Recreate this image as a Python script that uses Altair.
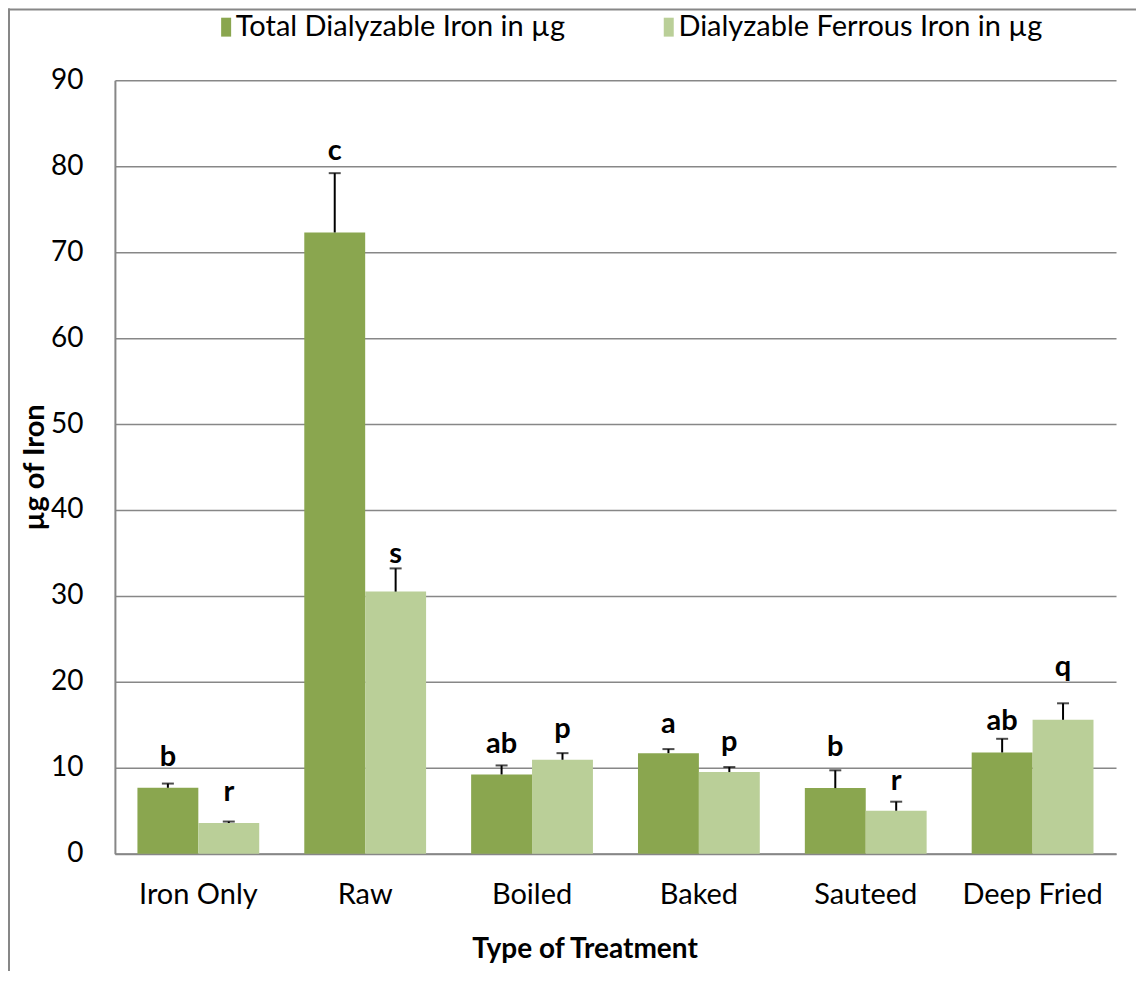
import altair as alt
import pandas as pd

categories = ["Iron Only", "Raw", "Boiled", "Baked", "Sauteed", "Deep Fried"]
series_names = ["Total Dialyzable Iron in µg", "Dialyzable Ferrous Iron in µg"]

total_iron = [7.67, 72.3, 9.22, 11.7, 7.63, 11.78]
total_err = [0.49, 6.9, 1.05, 0.47, 2.07, 1.59]
total_letters = ["b", "c", "ab", "a", "b", "ab"]
total_label_at = [10.15, 80.7, 11.74, 14.1, 11.4, 14.34]

ferrous_iron = [3.57, 30.5, 10.93, 9.5, 5.0, 15.58]
ferrous_err = [0.17, 2.7, 0.77, 0.58, 1.05, 1.92]
ferrous_letters = ["r", "s", "p", "p", "r", "q"]
ferrous_label_at = [6.08, 33.8, 13.49, 11.9, 7.44, 20.7]

y_ticks = [0, 10, 20, 30, 40, 50, 60, 70, 80, 90]
colors = ["#8aa64f", "#bacf98"]

rows = []
for i, c in enumerate(categories):
    rows.append(dict(cat=c, series=series_names[0], value=total_iron[i],
                     top=total_iron[i] + total_err[i], letter=total_letters[i],
                     label_y=total_label_at[i]))
    rows.append(dict(cat=c, series=series_names[1], value=ferrous_iron[i],
                     top=ferrous_iron[i] + ferrous_err[i], letter=ferrous_letters[i],
                     label_y=ferrous_label_at[i]))
df = pd.DataFrame(rows)

FONT = "Lato"
GRAY = "#878787"

x_enc = alt.X(
    "cat:N", sort=categories,
    scale=alt.Scale(paddingInner=0.27, paddingOuter=0.135),
    axis=alt.Axis(title="Type of Treatment", labelAngle=0, ticks=False,
                  domainColor=GRAY, domainWidth=2,
                  labelFont=FONT, labelFontSize=29, labelColor="black",
                  labelPadding=41, labelBaseline="middle",
                  titleFont=FONT, titleFontSize=28, titleFontWeight="bold",
                  titleColor="black", titleX=470, titleY=96,
                  titleBaseline="middle", titleAlign="center"),
)
xo_enc = alt.XOffset("series:N", sort=series_names,
                     scale=alt.Scale(paddingInner=0, paddingOuter=0))
y_scale = alt.Scale(domain=[0, 90], nice=False)

base = alt.Chart(df)

bars = base.mark_bar().encode(
    x=x_enc,
    xOffset=xo_enc,
    y=alt.Y("value:Q", scale=y_scale,
            axis=alt.Axis(title="µg of Iron", values=y_ticks, ticks=False,
                          domainColor=GRAY, domainWidth=2,
                          gridColor=GRAY, gridWidth=1.5,
                          labelFont=FONT, labelFontSize=28, labelColor="black",
                          labelPadding=32,
                          titleFont=FONT, titleFontSize=29, titleFontWeight="bold",
                          titleColor="black", titleX=-80, titleY=387,
                          titleAngle=-90, titleBaseline="middle", titleAlign="center")),
    color=alt.Color("series:N", sort=series_names,
                    scale=alt.Scale(domain=series_names, range=colors),
                    legend=alt.Legend(title=None, orient="none", legendX=90, legendY=-68,
                                      direction="horizontal",
                                      symbolType="M0.155,-0.8H1V0.8H0.155Z",
                                      symbolSize=560, symbolStrokeWidth=0,
                                      labelFont=FONT, labelFontSize=29,
                                      labelColor="black", labelOffset=2,
                                      columnPadding=82, labelLimit=500)),
)

rules = base.mark_rule(color="black", strokeWidth=2).encode(
    x=alt.X("cat:N", sort=categories), xOffset=xo_enc,
    y=alt.Y("value:Q", scale=y_scale), y2="top:Q",
)

caps = base.mark_tick(color="black", size=12, thickness=2, orient="horizontal").encode(
    x=alt.X("cat:N", sort=categories), xOffset=xo_enc,
    y=alt.Y("top:Q", scale=y_scale),
)

letters = base.mark_text(font=FONT, fontSize=29, fontWeight="bold",
                         baseline="alphabetic", color="black").encode(
    x=alt.X("cat:N", sort=categories), xOffset=xo_enc,
    y=alt.Y("label_y:Q", scale=y_scale),
    text="letter:N",
)

frame_df = pd.DataFrame({"k": [0]})
frame_left = alt.Chart(frame_df).mark_rule(color=GRAY, strokeWidth=2).encode(
    x=alt.value(-106), y=alt.value(-72), y2=alt.value(1000))
frame_top = alt.Chart(frame_df).mark_rule(color=GRAY, strokeWidth=2).encode(
    x=alt.value(-107), x2=alt.value(1100), y=alt.value(-71))

chart = alt.layer(bars, rules, caps, letters, frame_left, frame_top).properties(
    width=1002, height=774,
    autosize=alt.AutoSizeParams(type="none"),
    padding={"left": 107, "top": 72, "right": 20, "bottom": 117},
    background="white",
).configure_view(strokeWidth=0)

chart.save("out.html", embed_options={"renderer": "svg", "actions": False})
